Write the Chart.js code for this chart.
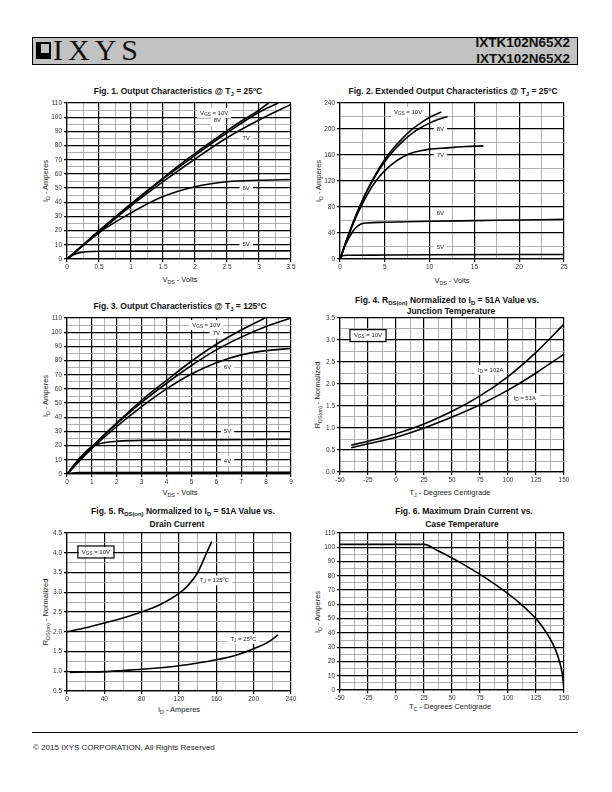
<!DOCTYPE html>
<html>
<head>
<meta charset="utf-8">
<script src="https://cdn.jsdelivr.net/npm/chart.js@4.4.0/dist/chart.umd.min.js"></script>
<style>
body { margin: 0; background: #fff; }
#page { position: relative; width: 612px; height: 792px; overflow: hidden; font-family: "Liberation Sans", Arial, sans-serif; color: #111; }
#page canvas { position: absolute; }
.txt { position: absolute; white-space: nowrap; transform: translate(-50%, -50%); }
.ttl { font-weight: bold; font-size: 8.5px; }
.axt { font-size: 7.5px; color: #222; }
.rot { transform: translate(-50%, -50%) rotate(-90deg); }
sub { font-size: 70%; vertical-align: -2px; line-height: 0; }
#hdr { position: absolute; left: 32px; top: 37px; width: 546px; height: 28px; box-sizing: border-box; background: #c2c2c2; border: 1px solid #000; }
#mark { position: absolute; left: 36px; top: 42px; width: 15px; height: 17px; background: #000; }
#mark i { position: absolute; left: 5px; top: 2px; width: 8px; height: 9px; background: #c2c2c2; }
#logo { position: absolute; left: 53px; top: 33px; font-family: "Liberation Serif", serif; font-size: 30px; letter-spacing: 5px; }
.part { position: absolute; right: 42px; font-weight: bold; font-size: 13.5px; }
#foot { position: absolute; left: 32px; top: 732px; width: 546px; height: 1px; background: #000; }
#copy { position: absolute; left: 33px; top: 743px; font-size: 8px; color: #222; }
</style>
</head>
<body>
<div id="page">
  <div id="hdr"></div>
  <div id="mark"><i></i></div>
  <div id="logo">IXYS</div>
  <div class="part" style="top:35px">IXTK102N65X2</div>
  <div class="part" style="top:51px">IXTX102N65X2</div>

  <div class="txt ttl" style="left:178px;top:91px">Fig. 1. Output Characteristics @ T<sub>J</sub> = 25ºC</div>
  <div class="txt ttl" style="left:453px;top:91px">Fig. 2. Extended Output Characteristics @ T<sub>J</sub> = 25ºC</div>
  <div class="txt ttl" style="left:180px;top:306px">Fig. 3. Output Characteristics @ T<sub>J</sub> = 125ºC</div>
  <div class="txt ttl" style="left:447px;top:300px">Fig. 4. R<sub>DS(on)</sub> Normalized to I<sub>D</sub> = 51A Value vs.</div>
  <div class="txt ttl" style="left:451px;top:311px">Junction Temperature</div>
  <div class="txt ttl" style="left:183px;top:511px">Fig. 5. R<sub>DS(on)</sub> Normalized to I<sub>D</sub> = 51A Value vs.</div>
  <div class="txt ttl" style="left:177px;top:524px">Drain Current</div>
  <div class="txt ttl" style="left:464px;top:511px">Fig. 6. Maximum Drain Current vs.</div>
  <div class="txt ttl" style="left:462px;top:524px">Case Temperature</div>

  <div class="txt axt" style="left:180px;top:279px">V<sub>DS</sub> - Volts</div>
  <div class="txt axt rot" style="left:45px;top:181px">I<sub>D</sub> - Amperes</div>
  <div class="txt axt" style="left:452px;top:280px">V<sub>DS</sub> - Volts</div>
  <div class="txt axt rot" style="left:318px;top:181px">I<sub>D</sub> - Amperes</div>
  <div class="txt axt" style="left:180px;top:492px">V<sub>DS</sub> - Volts</div>
  <div class="txt axt rot" style="left:45px;top:396px">I<sub>D</sub> - Amperes</div>
  <div class="txt axt" style="left:450px;top:492px">T<sub>J</sub> - Degrees Centigrade</div>
  <div class="txt axt rot" style="left:317px;top:395px">R<sub>DS(on)</sub> - Normalized</div>
  <div class="txt axt" style="left:179px;top:709px">I<sub>D</sub> - Amperes</div>
  <div class="txt axt rot" style="left:45px;top:612px">R<sub>DS(on)</sub> - Normalized</div>
  <div class="txt axt" style="left:450px;top:706px">T<sub>C</sub> - Degrees Centigrade</div>
  <div class="txt axt rot" style="left:317px;top:612px">I<sub>D</sub> - Amperes</div>

  <canvas id="fig1"></canvas>
  <canvas id="fig2"></canvas>
  <canvas id="fig3"></canvas>
  <canvas id="fig4"></canvas>
  <canvas id="fig5"></canvas>
  <canvas id="fig6"></canvas>

  <div id="foot"></div>
  <div id="copy">© 2015 IXYS CORPORATION, All Rights Reserved</div>
</div>

<script>
// Fig. 1 - output characteristics @ 25C, [VDS, ID] per gate voltage
const fig1Vgs10 = [[0,0],[0.25,10],[0.5,20],[0.75,29.5],[1,39],[1.25,48],[1.5,57],[1.75,66],[2,74.5],[2.25,82.5],[2.5,90.5],[2.75,98],[3,105],[3.15,110]];
const fig1Vgs8 = [[0,0],[0.5,19.5],[1,38.5],[1.5,56.5],[2,73],[2.5,89],[3,103.5],[3.3,110]];
const fig1Vgs7 = [[0,0],[0.5,19],[1,37.5],[1.5,54.5],[2,70.5],[2.5,85.5],[3,98],[3.5,109]];
const fig1Vgs6 = [[0,0],[0.5,18.5],[1,32.5],[1.5,44],[2,51],[2.5,54.5],[3,55.5],[3.5,56]];
const fig1Vgs5 = [[0,0],[0.1,3],[0.2,4.5],[0.35,5.3],[0.6,5.5],[1.5,5.6],[3.5,5.8]];
const fig1Notes = [['V{GS} = 10V', 2.3, 103], ['8V', 2.35, 97.5], ['7V', 2.8, 85], ['6V', 2.8, 50], ['5V', 2.8, 10]];

// Fig. 2 - extended output characteristics @ 25C
const fig2Vgs10 = [[0,0],[1,39],[2,74.5],[3,105],[4,131],[5,153],[6,171],[7,186],[8,199],[9,209],[10,218],[11.3,226]];
const fig2Vgs8 = [[0,0],[1,39],[2,74],[3,103.5],[4,129],[5,150],[6,167],[7,181],[8,193],[9,202],[10,209],[11,215],[12,219]];
const fig2Vgs7 = [[0,0],[1,38],[2,71],[3,98],[4,120],[5,136],[6,148],[7,157],[8,163],[9,166.5],[10,169],[12,171],[14,173],[16,174]];
const fig2Vgs6 = [[0,0],[0.5,18.5],[1,32.5],[1.5,44],[2,51],[2.5,54.5],[3,55.5],[5,56.5],[10,58],[15,59],[20,60],[25,61]];
const fig2Vgs5 = [[0,0],[0.2,4.5],[0.4,5.4],[1,5.7],[5,6.1],[10,6.5],[25,7]];
const fig2Notes = [['V{GS} = 10V', 7.6, 226], ['8V', 11.2, 200], ['7V', 11.2, 159], ['6V', 11.2, 70], ['5V', 11.2, 18]];

// Fig. 3 - output characteristics @ 125C
const fig3Vgs10 = [[0,0],[1,19],[2,36],[3,52],[4,66],[5,79.5],[6,91.5],[7,101.5],[7.95,110]];
const fig3Vgs7 = [[0,0],[1,19],[2,35.5],[3,50.5],[4,64],[5,76.5],[6,87.5],[7,96.5],[8,104],[9,110]];
const fig3Vgs6 = [[0,0],[1,18],[2,33.5],[3,47.5],[4,60],[5,70.5],[6,78.5],[7,84],[8,87],[9,88.5]];
const fig3Vgs5 = [[0,0],[0.5,11],[1,19.5],[1.5,22],[2,23],[2.5,23.5],[3,23.7],[5,24],[9,24.5]];
const fig3Vgs4 = [[0,0],[0.2,0.6],[0.5,1],[1,1.1],[9,1.2]];
const fig3Notes = [['V{GS} = 10V', 5.6, 105], ['7V', 6.0, 99], ['6V', 6.45, 75], ['5V', 6.45, 30], ['4V', 6.45, 9]];

// Fig. 4 - RDS(on) vs junction temperature
const fig4Temp = [-40, -25, 0, 25, 50, 75, 100, 125, 150];
const fig4Id102 = [0.61, 0.70, 0.87, 1.09, 1.38, 1.73, 2.17, 2.72, 3.36];
const fig4Id51 = [0.55, 0.64, 0.79, 1.00, 1.25, 1.53, 1.86, 2.25, 2.68];
const fig4Box = ['V{GS} = 10V', -25, 3.1];
const fig4Notes = [['I{D} = 102A', 84.5, 2.32], ['I{D} = 51A', 115, 1.68]];

// Fig. 5 - RDS(on) vs drain current
const fig5Id125 = [0, 20, 40, 60, 80, 100, 120, 130, 140, 150, 155];
const fig5R125 = [2.0, 2.1, 2.22, 2.35, 2.5, 2.69, 2.97, 3.18, 3.5, 4.02, 4.28];
const fig5Id25 = [3, 20, 40, 60, 80, 100, 120, 140, 160, 180, 200, 215, 226];
const fig5R25 = [0.97, 0.98, 0.99, 1.02, 1.05, 1.09, 1.14, 1.21, 1.29, 1.4, 1.57, 1.73, 1.92];
const fig5Box = ['V{GS} = 10V', 31, 4.02];
const fig5Notes = [['T{J} = 125ºC', 158, 3.3], ['T{J} = 25ºC', 189, 1.82]];

// Fig. 6 - max drain current vs case temperature
const fig6Temp = [-50, 25, 37.5, 50, 62.5, 75, 87.5, 100, 112.5, 125, 131, 137.5, 142, 146, 148.5, 150];
const fig6Id = [102, 102, 97.5, 92.5, 87, 81, 74.5, 67.5, 59.5, 50, 44, 36, 29, 20, 11, 0];

const FONT = '"Liberation Sans", Arial, sans-serif';

function drawNote(ctx, text, px, py, boxed) {
    const parts = text.split(/(\{[^}]*\})/).filter(s => s.length).map(s =>
        s[0] === '{' ? { t: s.slice(1, -1), sub: true } : { t: s, sub: false });
    const big = '6px ' + FONT, small = '4.6px ' + FONT;
    let w = 0;
    parts.forEach(p => { ctx.font = p.sub ? small : big; p.w = ctx.measureText(p.t).width; w += p.w; });
    ctx.save();
    const bx = px - w / 2 - 3, by = py - 5, bw = w + 6, bh = 10;
    ctx.fillStyle = '#fff';
    ctx.fillRect(bx, by, bw, bh);
    if (boxed) {
        ctx.strokeStyle = '#000';
        ctx.lineWidth = 1.2;
        ctx.strokeRect(bx - 1, by - 1, bw + 2, bh + 2);
    }
    ctx.fillStyle = '#222';
    ctx.textBaseline = 'middle';
    ctx.textAlign = 'left';
    let x = px - w / 2;
    parts.forEach(p => {
        ctx.font = p.sub ? small : big;
        ctx.fillText(p.t, x, py + (p.sub ? 1.5 : 0));
        x += p.w;
    });
    ctx.restore();
}

const notesPlugin = {
    id: 'notes',
    beforeDatasetsDraw(chart, args, opts) {
        const xs = chart.scales.x, ys = chart.scales.y;
        (opts.items || []).forEach(([t, vx, vy]) => drawNote(chart.ctx, t, xs.getPixelForValue(vx), ys.getPixelForValue(vy), false));
        if (opts.box) {
            const [t, vx, vy] = opts.box;
            drawNote(chart.ctx, t, xs.getPixelForValue(vx), ys.getPixelForValue(vy), true);
        }
    }
};

function axis(a, dir) {
    const isMajor = v => Math.abs(v / a.major - Math.round(v / a.major)) < 1e-6;
    const maj = c => c.tick && isMajor(c.tick.value);
    return {
        type: 'linear',
        min: a.min,
        max: a.max,
        afterFit: s => { if (dir === 'x') s.height = 24; else s.width = 40; },
        ticks: {
            stepSize: a.step,
            autoSkip: false,
            maxRotation: 0,
            padding: dir === 'x' ? 1 : 2,
            color: '#333',
            font: { family: FONT, size: 6.5 },
            callback: v => isMajor(v) ? a.fmt(v) : ''
        },
        grid: {
            color: c => maj(c) ? '#000' : '#9c9c9c',
            lineWidth: c => maj(c) ? 1.2 : 0.8,
            tickLength: 3,
            tickColor: c => maj(c) ? '#000' : 'rgba(0,0,0,0)'
        },
        border: { color: '#000', width: 1.2 }
    };
}

function line(points) {
    return {
        data: points,
        borderColor: '#000',
        borderWidth: 1.6,
        pointRadius: 0,
        fill: false,
        cubicInterpolationMode: 'monotone'
    };
}

const pairs = arr => arr.map(([x, y]) => ({ x, y }));
const zipXY = (xs, ys) => xs.map((x, i) => ({ x, y: ys[i] }));

// plot box = left, top, right, bottom in page pixels
function makeChart(id, plot, xa, ya, datasets, notes) {
    const cv = document.getElementById(id);
    const w = plot[2] - plot[0] + 52, h = plot[3] - plot[1] + 36;
    cv.width = w; cv.height = h;
    cv.style.left = (plot[0] - 40) + 'px';
    cv.style.top = (plot[1] - 12) + 'px';
    new Chart(cv, {
        type: 'line',
        data: { datasets },
        options: {
            responsive: false,
            animation: false,
            devicePixelRatio: 1,
            layout: { padding: { left: 0, top: 12, right: 12, bottom: 0 } },
            plugins: { legend: { display: false }, tooltip: { enabled: false }, notes },
            scales: { x: axis(xa, 'x'), y: axis(ya, 'y') }
        },
        plugins: [notesPlugin]
    });
}

const str = v => String(v);
const one = v => v.toFixed(1);

makeChart('fig1', [67, 103, 291, 259],
    { min: 0, max: 3.5, step: 0.25, major: 0.5, fmt: str },
    { min: 0, max: 110, step: 5, major: 10, fmt: str },
    [fig1Vgs10, fig1Vgs8, fig1Vgs7, fig1Vgs6, fig1Vgs5].map(s => line(pairs(s))),
    { items: fig1Notes });

makeChart('fig2', [340, 103, 564, 259],
    { min: 0, max: 25, step: 2.5, major: 5, fmt: str },
    { min: 0, max: 240, step: 20, major: 40, fmt: str },
    [fig2Vgs10, fig2Vgs8, fig2Vgs7, fig2Vgs6, fig2Vgs5].map(s => line(pairs(s))),
    { items: fig2Notes });

makeChart('fig3', [67, 318, 291, 474],
    { min: 0, max: 9, step: 0.5, major: 1, fmt: str },
    { min: 0, max: 110, step: 5, major: 10, fmt: str },
    [fig3Vgs10, fig3Vgs7, fig3Vgs6, fig3Vgs5, fig3Vgs4].map(s => line(pairs(s))),
    { items: fig3Notes });

makeChart('fig4', [340, 318, 564, 472],
    { min: -50, max: 150, step: 12.5, major: 25, fmt: str },
    { min: 0, max: 3.5, step: 0.25, major: 0.5, fmt: one },
    [line(zipXY(fig4Temp, fig4Id102)), line(zipXY(fig4Temp, fig4Id51))],
    { items: fig4Notes, box: fig4Box });

makeChart('fig5', [67, 533, 291, 691],
    { min: 0, max: 240, step: 20, major: 40, fmt: str },
    { min: 0.5, max: 4.5, step: 0.25, major: 0.5, fmt: one },
    [line(zipXY(fig5Id125, fig5R125)), line(zipXY(fig5Id25, fig5R25))],
    { items: fig5Notes, box: fig5Box });

makeChart('fig6', [340, 533, 564, 690],
    { min: -50, max: 150, step: 12.5, major: 25, fmt: str },
    { min: 0, max: 110, step: 5, major: 10, fmt: str },
    [line(zipXY(fig6Temp, fig6Id))],
    { items: [] });
</script>
</body>
</html>
